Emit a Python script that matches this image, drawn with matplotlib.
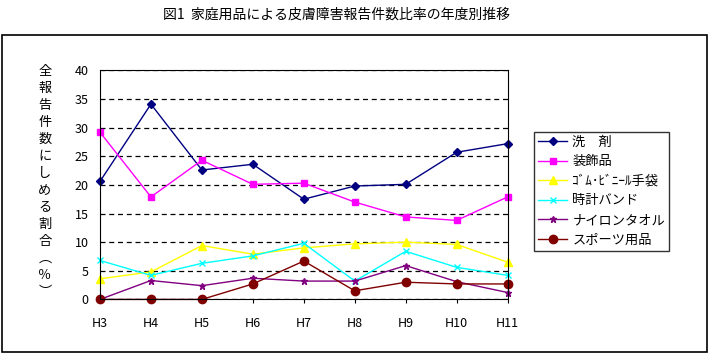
import matplotlib
matplotlib.use("Agg")
import matplotlib.pyplot as plt
from matplotlib.patches import Rectangle

plt.rcParams['font.family'] = ['Noto Sans CJK JP', 'DejaVu Sans']

years = ["H3", "H4", "H5", "H6", "H7", "H8", "H9", "H10", "H11"]
detergent = [20.6, 34.1, 22.6, 23.6, 17.5, 19.8, 20.1, 25.7, 27.2]
accessories = [29.2, 17.9, 24.3, 20.1, 20.3, 17.0, 14.4, 13.8, 17.9]
gloves = [3.6, 4.8, 9.4, 7.9, 9.0, 9.7, 10.0, 9.6, 6.5]
watch_band = [6.8, 4.2, 6.3, 7.6, 9.8, 3.2, 8.4, 5.6, 4.2]
nylon_towel = [0.0, 3.3, 2.4, 3.7, 3.2, 3.2, 5.9, 3.1, 1.2]
sports = [0.0, 0.0, 0.0, 2.7, 6.7, 1.5, 3.0, 2.7, 2.7]

series = [
    ("洗　剤", detergent, "#000080", "D", 4),
    ("装飾品", accessories, "#FF00FF", "s", 5),
    ("ｺﾞﾑ･ﾋﾞﾆｰﾙ手袋", gloves, "#FFFF00", "^", 6),
    ("時計バンド", watch_band, "#00FFFF", "x", 5),
    ("ナイロンタオル", nylon_towel, "#800080", "*", 5),
    ("スポーツ用品", sports, "#800000", "o", 6),
]

fig = plt.figure(figsize=(7.09, 3.59), dpi=100)
fig.patches.append(Rectangle((2 / 709, 7 / 359), 705 / 709, 317 / 359,
                             transform=fig.transFigure, fill=False,
                             edgecolor="black", linewidth=1.2))

ax = fig.add_axes([0.141, 0.166, 0.575, 0.638])
x = list(range(len(years)))
for label, vals, color, marker, ms in series:
    ax.plot(x, vals, color=color, marker=marker, markersize=ms,
            linewidth=1, label=label, clip_on=False)

ax.set_xlim(0, len(years) - 1)
ax.set_ylim(0, 40)
ax.set_yticks(range(0, 41, 5))
ax.set_xticks(x)
ax.set_xticklabels(years)
ax.tick_params(axis="y", length=0, pad=8, labelsize=9)
ax.tick_params(axis="x", length=3, pad=10, labelsize=9)
ax.yaxis.grid(True, linestyle=(0, (4, 3)), color="black", linewidth=0.9)
ax.set_axisbelow(True)

# vertical y label, one character per line
ax.text(-0.135, 1.025, "全\n報\n告\n件\n数\nに\nし\nめ\nる\n割\n合\n︵\n％\n︶",
        transform=ax.transAxes, ha="center", va="top", fontsize=9.5,
        linespacing=1.4)

fig.text(0.475, 0.958, "図1  家庭用品による皮膚障害報告件数比率の年度別推移",
         ha="center", va="center", fontsize=10)

leg = ax.legend(loc="upper left", bbox_to_anchor=(1.065, 0.732), frameon=True,
                fancybox=False, edgecolor="black", fontsize=9.5,
                handlelength=2.2, borderpad=0.3, labelspacing=0.5,
                handletextpad=0.4, borderaxespad=0)
leg.get_frame().set_linewidth(1)

fig.savefig("out.png", dpi=100)
